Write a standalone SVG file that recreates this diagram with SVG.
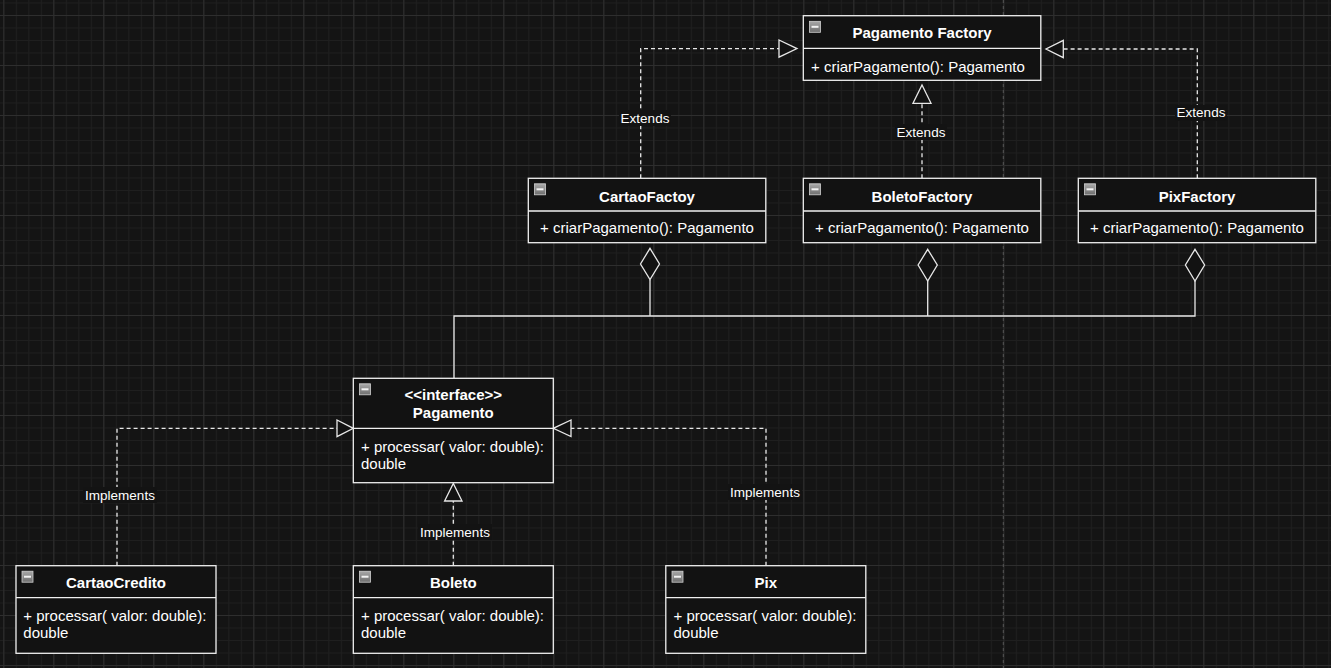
<svg xmlns="http://www.w3.org/2000/svg" width="1331" height="668" viewBox="0 0 1331 668">
<defs>
<pattern id="minor" patternUnits="userSpaceOnUse" x="3.3" y="2.5" width="12.5" height="12.5">
<path d="M0 0.5H12.5M0.5 0V12.5" stroke="#1f1f1f" stroke-width="1" fill="none"/>
</pattern>
<pattern id="major" patternUnits="userSpaceOnUse" x="3.3" y="15" width="50" height="50">
<path d="M0 0.5H50M0.5 0V50" stroke="#2e2e2e" stroke-width="1" fill="none"/>
</pattern>
<linearGradient id="ig" x1="0" y1="0" x2="0" y2="1">
<stop offset="0" stop-color="#a8a8a8"/>
<stop offset="1" stop-color="#6e6e6e"/>
</linearGradient>
<g id="icon">
<rect x="0" y="0" width="11" height="11" fill="url(#ig)" stroke="#d0d0d0" stroke-width="0.8"/>
<rect x="2" y="4.5" width="7" height="2" fill="#f2f2f2"/>
</g>
</defs>
<style>
.box{fill:#121212;stroke:#f0f0f0;stroke-width:1.3}
.sep{stroke:#f0f0f0;stroke-width:1.3}
.t{font-family:"Liberation Sans",Arial,sans-serif;font-size:15px;font-weight:bold;fill:#ffffff;text-anchor:middle}
.b{font-family:"Liberation Sans",Arial,sans-serif;font-size:15px;fill:#ffffff}
.bc{text-anchor:middle}
.edge{fill:none;stroke:#e8e8e8;stroke-width:1.3}
.dash{stroke-dasharray:4 3}
.tri{fill:#121212;stroke:#e8e8e8;stroke-width:1.3}
.lbl{font-family:"Liberation Sans",Arial,sans-serif;font-size:13.5px;fill:#ffffff;text-anchor:middle}
.lbg{fill:#131313}
</style>
<rect x="0" y="0" width="1331" height="668" fill="#141414"/>
<rect x="0" y="0" width="1331" height="668" fill="url(#minor)"/>
<rect x="0" y="0" width="1331" height="668" fill="url(#major)"/>
<line x1="1003.3" y1="0" x2="1003.3" y2="668" stroke="#555555" stroke-width="1" stroke-dasharray="3 3"/>

<g id="connectors">
<!-- Extends -->
<path class="edge dash" d="M640.7 178.3V48.6H779"/>
<polygon class="tri" points="779,40 797,48.6 779,57.2"/>
<path class="edge dash" d="M922 178.3V103.3"/>
<polygon class="tri" points="913,103.3 922,85 931,103.3"/>
<path class="edge dash" d="M1197.3 178.3V49H1063.3"/>
<polygon class="tri" points="1063.3,40.4 1046,49 1063.3,57.6"/>
<rect class="lbg" x="619" y="110" width="52" height="16"/>
<text class="lbl" x="645" y="122.6">Extends</text>
<rect class="lbg" x="895" y="124" width="52" height="16"/>
<text class="lbl" x="921" y="136.6">Extends</text>
<rect class="lbg" x="1175" y="105" width="52" height="16"/>
<text class="lbl" x="1201" y="117.4">Extends</text>
<!-- Aggregation -->
<polygon class="tri" points="650,248.3 659.5,264 650,279.6 640.5,264"/>
<polygon class="tri" points="927.7,249.3 937.3,265 927.7,281 918.1,265"/>
<polygon class="tri" points="1195,249.3 1204.6,265 1195,281 1185.4,265"/>
<path class="edge" d="M650 279.6V316"/>
<path class="edge" d="M927.7 281V316"/>
<path class="edge" d="M1195 281V316H454V378.3"/>
<!-- Implements -->
<path class="edge dash" d="M117 565.7V428.3H337"/>
<polygon class="tri" points="337,420 353.3,428.3 337,436.6"/>
<path class="edge dash" d="M453.3 565.7V501"/>
<polygon class="tri" points="444.6,501 453.3,483.5 462,501"/>
<path class="edge dash" d="M766 565.7V428.3H571"/>
<polygon class="tri" points="571,420 553.3,428.3 571,436.6"/>
<rect class="lbg" x="83" y="487" width="74" height="16"/>
<text class="lbl" x="120" y="499.6">Implements</text>
<rect class="lbg" x="418" y="524" width="74" height="16"/>
<text class="lbl" x="455" y="536.6">Implements</text>
<rect class="lbg" x="728" y="484" width="74" height="16"/>
<text class="lbl" x="765" y="496.6">Implements</text>
</g>

<g id="pagamento-factory">
<rect class="box" x="803.3" y="15.7" width="237.5" height="64.6"/>
<line class="sep" x1="803.3" y1="48.3" x2="1040.8" y2="48.3"/>
<use href="#icon" x="809.5" y="21.3"/>
<text class="t" x="922" y="38.3">Pagamento Factory</text>
<text class="b" x="811" y="71.7">+ criarPagamento(): Pagamento</text>
</g>

<g id="cartao-factoy">
<rect class="box" x="528.3" y="178.3" width="237.5" height="64.4"/>
<line class="sep" x1="528.3" y1="211" x2="765.8" y2="211"/>
<use href="#icon" x="534.5" y="183.8"/>
<text class="t" x="647" y="201.6">CartaoFactoy</text>
<text class="b bc" x="647" y="233.3">+ criarPagamento(): Pagamento</text>
</g>

<g id="boleto-factory">
<rect class="box" x="803.3" y="178.3" width="237.5" height="64.4"/>
<line class="sep" x1="803.3" y1="211" x2="1040.8" y2="211"/>
<use href="#icon" x="809.5" y="183.8"/>
<text class="t" x="922" y="201.6">BoletoFactory</text>
<text class="b bc" x="922" y="233.3">+ criarPagamento(): Pagamento</text>
</g>

<g id="pix-factory">
<rect class="box" x="1078.3" y="178.3" width="237.5" height="64.4"/>
<line class="sep" x1="1078.3" y1="211" x2="1315.8" y2="211"/>
<use href="#icon" x="1084.5" y="183.8"/>
<text class="t" x="1197" y="201.6">PixFactory</text>
<text class="b bc" x="1197" y="233.3">+ criarPagamento(): Pagamento</text>
</g>

<g id="pagamento">
<rect class="box" x="353.3" y="378.3" width="200" height="104.4"/>
<line class="sep" x1="353.3" y1="428.3" x2="553.3" y2="428.3"/>
<use href="#icon" x="359.5" y="383.8"/>
<text class="t" x="453.3" y="400">&lt;&lt;interface&gt;&gt;</text>
<text class="t" x="453.3" y="418">Pagamento</text>
<text class="b" x="361" y="451.7">+ processar( valor: double):</text>
<text class="b" x="361" y="468.5">double</text>
</g>

<g id="cartao-credito">
<rect class="box" x="16" y="565.7" width="200" height="87.6"/>
<line class="sep" x1="16" y1="597.7" x2="216" y2="597.7"/>
<use href="#icon" x="22" y="571.2"/>
<text class="t" x="116" y="588.3">CartaoCredito</text>
<text class="b" x="23.3" y="621">+ processar( valor: double):</text>
<text class="b" x="23.3" y="638">double</text>
</g>

<g id="boleto">
<rect class="box" x="353.3" y="565.7" width="200" height="87.6"/>
<line class="sep" x1="353.3" y1="597.7" x2="553.3" y2="597.7"/>
<use href="#icon" x="359.5" y="571.2"/>
<text class="t" x="453.3" y="588.3">Boleto</text>
<text class="b" x="361" y="621">+ processar( valor: double):</text>
<text class="b" x="361" y="638">double</text>
</g>

<g id="pix">
<rect class="box" x="665.8" y="565.7" width="200" height="87.6"/>
<line class="sep" x1="665.8" y1="597.7" x2="865.8" y2="597.7"/>
<use href="#icon" x="672" y="571.2"/>
<text class="t" x="765.8" y="588.3">Pix</text>
<text class="b" x="673.5" y="621">+ processar( valor: double):</text>
<text class="b" x="673.5" y="638">double</text>
</g>
</svg>
